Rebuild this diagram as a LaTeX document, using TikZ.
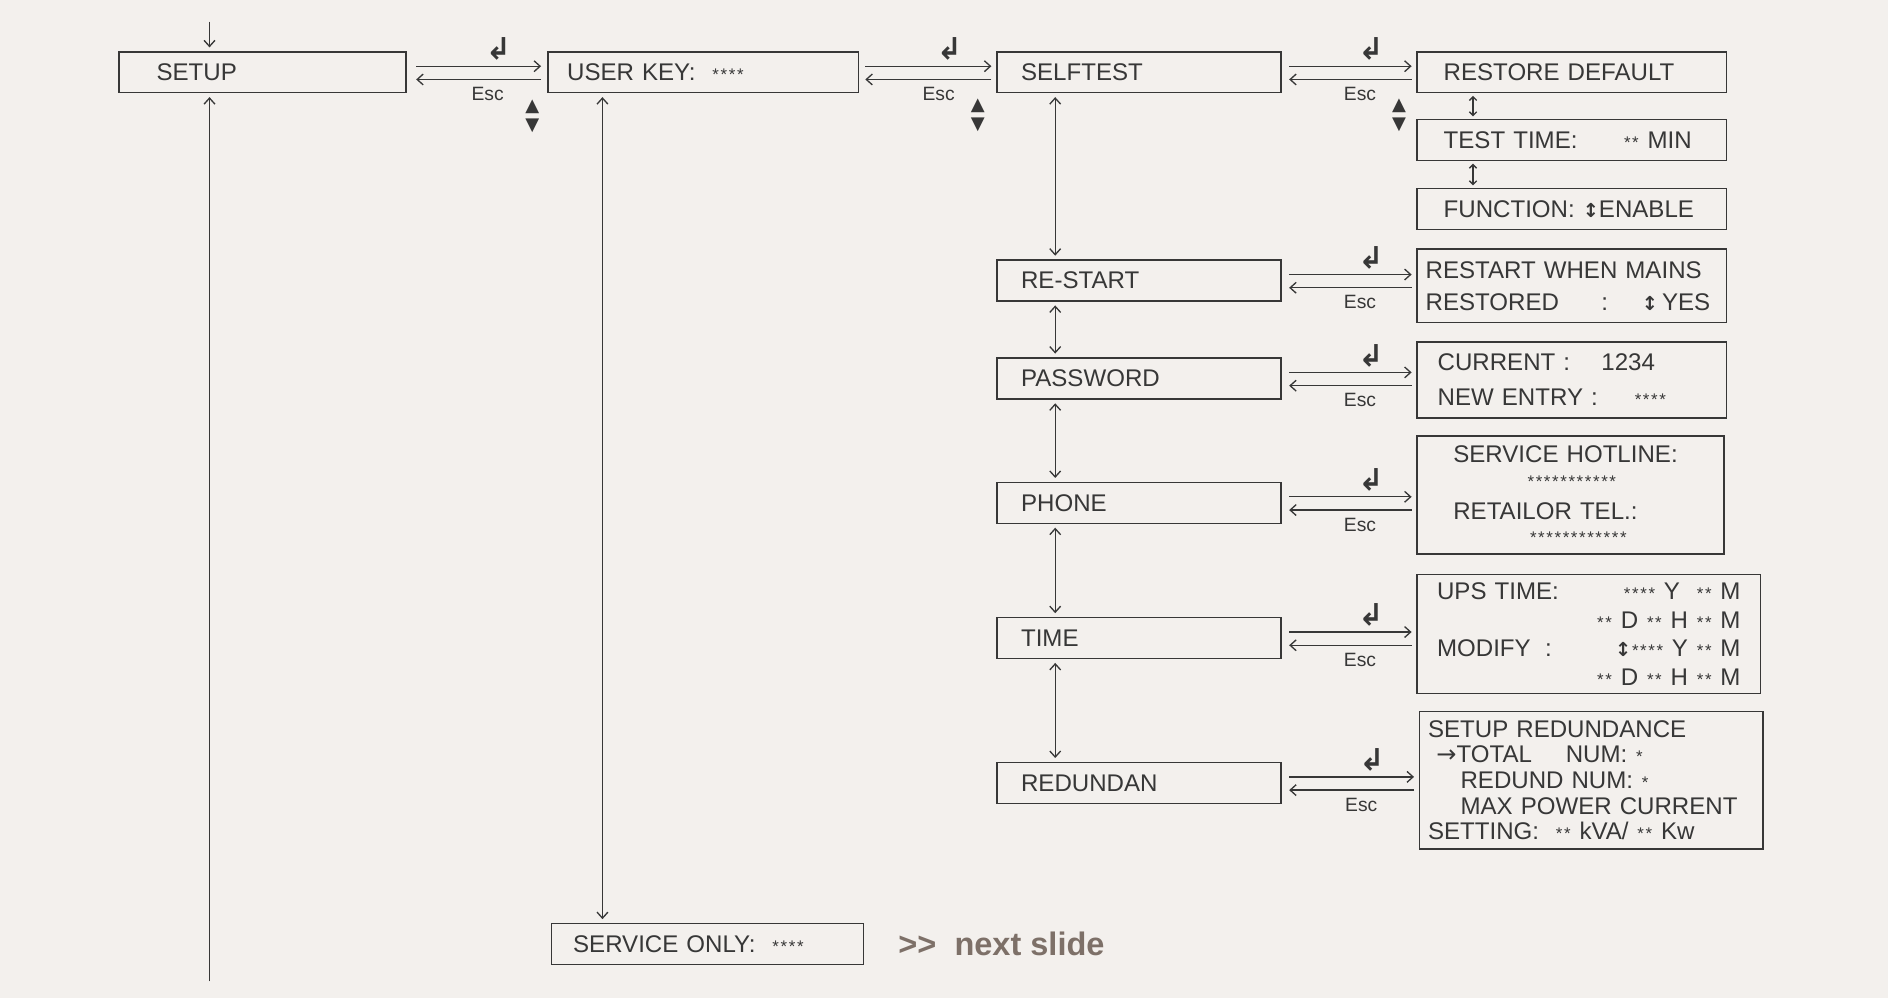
\documentclass[tikz,border=0pt]{standalone}
\usepackage{fontspec}
\setmainfont{Liberation Sans}
\newfontfamily\symfont{DejaVu Sans}
\usetikzlibrary{positioning,calc,arrows.meta}
\definecolor{bgcol}{RGB}{243,240,237}
\definecolor{inkcol}{RGB}{55,55,55}
\definecolor{slidecol}{RGB}{125,112,104}
\newcommand\stars[1]{\foreach\k in {1,...,#1}{\makebox[6.8pt]{\fontsize{14pt}{14pt}\selectfont*}}}
\newcommand\updn{{\symfont\bfseries\fontsize{16pt}{16pt}\selectfont ↕}}
\tikzset{
  menu/.style={rectangle, draw=inkcol, line width=1.3pt, minimum height=34pt, inner xsep=20pt, inner ysep=0pt, text width=196pt, align=left, text=inkcol, font=\fontsize{20pt}{24pt}\selectfont},
  info/.style={rectangle, draw=inkcol, line width=1.3pt, inner ysep=0pt, align=left, text=inkcol},
  link/.style={draw=inkcol, line width=1.1pt, ->},
  twoway/.style={draw=inkcol, line width=1.1pt, <->, shorten <=3pt, shorten >=3pt},
  short/.style={>={Straight Barb[length=3pt,width=6pt]}, shorten <=2pt, shorten >=2pt},
  enter/.style={above=4pt, xshift=18pt, inner sep=0pt, text=inkcol, font=\symfont\bfseries\fontsize{25pt}{25pt}\selectfont},
  esc/.style={below=6pt, xshift=9pt, inner sep=0pt, text=inkcol, font=\fontsize{16pt}{16pt}\selectfont},
  updown/.style={inner sep=0pt, align=center, text=inkcol, font=\symfont\fontsize{15pt}{15pt}\selectfont},
}
\begin{document}
\begin{tikzpicture}[x=1pt, y=-1pt, >={Straight Barb[length=5pt,width=9pt]}]
  % page
  \fill[bgcol] (0,0) rectangle (1568,829);

  % main row
  \node[menu, inner xsep=31pt, text width=176pt] (setup) at (218,60) {SETUP};
  \node[menu, inner xsep=16pt, text width=226pt] (userkey) at (584,60) {USER KEY:\ \ \stars{4}};
  \node[menu] (selftest) at (946,60) {SELFTEST};
  \node[menu, inner xsep=18pt, text width=223pt] (serviceonly) at (587.5,784) {SERVICE ONLY:\ \ \stars{4}};

  % self test screens
  \node[menu, inner xsep=22pt, text width=213pt] (restore) at (1305.5,60) {RESTORE DEFAULT};
  \node[menu, inner xsep=22pt, text width=213pt, below=21pt of restore] (testtime) {TEST TIME:\hspace{38pt}\stars{2}\ MIN};
  \node[menu, inner xsep=22pt, text width=213pt, below=22pt of testtime] (function) {FUNCTION:\ \updn ENABLE};

  % setup items
  \node[menu] (restart) at (946,233) {RE-START};
  \node[menu, below=46pt of restart] (password) {PASSWORD};
  \node[menu, below=68pt of password] (phone) {PHONE};
  \node[menu, below=77pt of phone] (time) {TIME};
  \node[menu, below=85pt of time] (redundan) {REDUNDAN};

  % sub screens
  \node[info, minimum height=61pt, inner xsep=7pt, text width=243pt, font=\fontsize{20pt}{27pt}\selectfont] (restartinfo) at (1305.5,237.5) {RESTART WHEN MAINS\\ \makebox[146pt][l]{RESTORED}:\hspace{28pt}\updn\,YES};
  \node[info, minimum height=63pt, inner xsep=17pt, text width=223pt, font=\fontsize{20pt}{29pt}\selectfont] (currentinfo) at (1305.5,315.5) {\makebox[136pt][l]{CURRENT\ :}1234\\ \makebox[163pt][l]{NEW ENTRY :}\stars{4}};
  \node[info, minimum height=98pt, inner xsep=30pt, text width=195pt, font=\fontsize{20pt}{20pt}\selectfont] (phoneinfo) at (1304.5,411) {SERVICE HOTLINE:\\ \hspace*{61pt}\stars{11}\\[7pt] RETAILOR TEL.:\\ \hspace*{63pt}\stars{12}};
  \node[info, minimum height=99pt, inner xsep=16.5pt, text width=252pt, font=\fontsize{20pt}{23.7pt}\selectfont] (upsinfo) at (1319.5,526.5) {UPS TIME:\hfill\stars{4}\ Y\ \ \stars{2}\ M\\ \hspace*{\fill}\stars{2}\ D\ \stars{2}\ H\ \stars{2}\ M\\ MODIFY\hspace{12pt}:\hfill\updn\stars{4}\ Y\ \stars{2}\ M\\ \hspace*{\fill}\stars{2}\ D\ \stars{2}\ H\ \stars{2}\ M};
  \node[info, minimum height=114pt, inner xsep=7pt, text width=271pt, font=\fontsize{20pt}{21.3pt}\selectfont] (redinfo) at (1321.5,648) {SETUP REDUNDANCE\\ \hspace*{7pt}{\symfont→}TOTAL\hspace{28pt}NUM:\ \stars{1}\\ \hspace*{27pt}REDUND NUM:\ \stars{1}\\ \hspace*{27pt}MAX POWER CURRENT\\ SETTING:\ \ \stars{2}\ kVA/\ \stars{2}\ Kw};

  \node[anchor=west, inner sep=0pt, text=slidecol, font=\bfseries\fontsize{27pt}{27pt}\selectfont] (nextslide) at (746,784) {>\kern0pt>\ \ next slide};

  % way in and way back
  \coordinate (entry) at (174,18);
  \coordinate (back) at (174,815);
  \draw[link, shorten >=3pt] (entry) -- (entry |- setup.north);
  \draw[link, shorten >=3pt] (back) -- (back |- setup.south);

  % enter / esc
  \draw[link, shorten <=8pt, shorten >=5pt] ([yshift=5pt]setup.east) -- node[enter] {↲} ([yshift=5pt]setup.east -| userkey.west);
  \draw[link, shorten <=5pt, shorten >=8pt] ([yshift=-6pt]setup.east -| userkey.west) -- node[esc] {Esc} ([yshift=-6pt]setup.east);
  \draw[link, shorten <=5pt, shorten >=4pt] ([yshift=5pt]userkey.east) -- node[enter] {↲} ([yshift=5pt]userkey.east -| selftest.west);
  \draw[link, shorten <=4pt, shorten >=5pt] ([yshift=-6pt]userkey.east -| selftest.west) -- node[esc] {Esc} ([yshift=-6pt]userkey.east);
  \draw[link, shorten <=6pt, shorten >=4pt] ([yshift=5pt]selftest.east) -- node[enter] {↲} ([yshift=5pt]selftest.east -| restore.west);
  \draw[link, shorten <=4pt, shorten >=6pt] ([yshift=-6pt]selftest.east -| restore.west) -- node[esc] {Esc} ([yshift=-6pt]selftest.east);
  \draw[link, shorten <=6pt, shorten >=4pt] ([yshift=5pt]restart.east) -- node[enter] {↲} ([yshift=5pt]restart.east -| restartinfo.west);
  \draw[link, shorten <=4pt, shorten >=6pt] ([yshift=-6pt]restart.east -| restartinfo.west) -- node[esc] {Esc} ([yshift=-6pt]restart.east);
  \draw[link, shorten <=6pt, shorten >=4pt] ([yshift=5pt]password.east) -- node[enter] {↲} ([yshift=5pt]password.east -| currentinfo.west);
  \draw[link, shorten <=4pt, shorten >=6pt] ([yshift=-6pt]password.east -| currentinfo.west) -- node[esc] {Esc} ([yshift=-6pt]password.east);
  \draw[link, shorten <=6pt, shorten >=4pt] ([yshift=5pt]phone.east) -- node[enter] {↲} ([yshift=5pt]phone.east -| phoneinfo.west);
  \draw[link, shorten <=4pt, shorten >=6pt] ([yshift=-6pt]phone.east -| phoneinfo.west) -- node[esc] {Esc} ([yshift=-6pt]phone.east);
  \draw[link, shorten <=6pt, shorten >=4pt] ([yshift=5pt]time.east) -- node[enter] {↲} ([yshift=5pt]time.east -| upsinfo.west);
  \draw[link, shorten <=4pt, shorten >=6pt] ([yshift=-6pt]time.east -| upsinfo.west) -- node[esc] {Esc} ([yshift=-6pt]time.east);
  \draw[link, shorten <=6pt, shorten >=4pt] ([yshift=5pt]redundan.east) -- node[enter] {↲} ([yshift=5pt]redundan.east -| redinfo.west);
  \draw[link, shorten <=4pt, shorten >=6pt] ([yshift=-6pt]redundan.east -| redinfo.west) -- node[esc] {Esc} ([yshift=-6pt]redundan.east);

  % up/down keys
  \node[updown] (keys1) at (442,96.5) {▲\\[1pt]▼};
  \node[updown] (keys2) at (812,96) {▲\\[1pt]▼};
  \node[updown] (keys3) at (1162,96) {▲\\[1pt]▼};

  % scrolling
  \draw[twoway] ([xshift=46pt]userkey.south west) -- ([xshift=46pt]userkey.south west |- serviceonly.north);
  \draw[twoway] ([xshift=49pt]selftest.south west) -- ([xshift=49pt]restart.north west);
  \draw[twoway] ([xshift=49pt]restart.south west) -- ([xshift=49pt]password.north west);
  \draw[twoway] ([xshift=49pt]password.south west) -- ([xshift=49pt]phone.north west);
  \draw[twoway] ([xshift=49pt]phone.south west) -- ([xshift=49pt]time.north west);
  \draw[twoway] ([xshift=49pt]time.south west) -- ([xshift=49pt]redundan.north west);
  \draw[twoway, short] ([xshift=47pt]restore.south west) -- ([xshift=47pt]testtime.north west);
  \draw[twoway, short] ([xshift=47pt]testtime.south west) -- ([xshift=47pt]function.north west);
\end{tikzpicture}
\end{document}
